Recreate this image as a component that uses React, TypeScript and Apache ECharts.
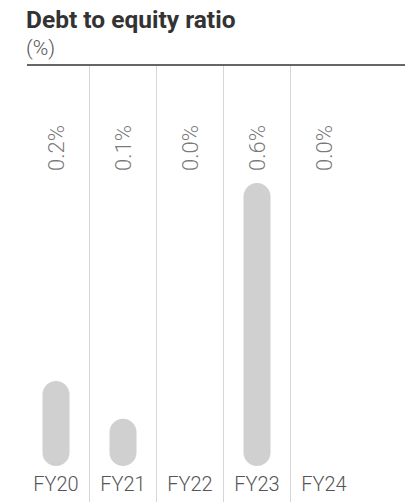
import React, { useEffect, useRef } from "react";
import * as echarts from "echarts";

const categories = ["FY20", "FY21", "FY22", "FY23", "FY24"];
const ratioValues = [0.18, 0.1, 0.0, 0.6, 0.0];
const valueLabels = ["0.2%", "0.1%", "0.0%", "0.6%", "0.0%"];
const titleText = "Debt to equity ratio";
const unitText = "(%)";

const FONT = "Roboto, 'Liberation Sans', Arial, sans-serif";
const LABEL_LEVEL = 0.81;

export default function App() {
  const ref = useRef<HTMLDivElement>(null);
  useEffect(() => {
    if (!ref.current) return;
    const chart = echarts.init(ref.current, undefined, { renderer: "svg" });
    chart.setOption({
      animation: false,
      backgroundColor: "#ffffff",
      textStyle: { fontFamily: FONT },
      title: {
        text: titleText,
        subtext: unitText,
        left: 21,
        top: 1.5,
        itemGap: 6,
        textStyle: { fontFamily: FONT, fontSize: 24.5, fontWeight: "bold", color: "#333333" },
        subtextStyle: { fontFamily: FONT, fontSize: 21, fontWeight: 300, color: "#555555" },
      },
      graphic: [
        {
          type: "line",
          shape: { x1: 27, y1: 65, x2: 405, y2: 65 },
          style: { stroke: "#333333", lineWidth: 1.3 },
          z: 10,
        },
      ],
      grid: [
        { left: 22.5, width: 335, top: 183, bottom: 36 },
        { left: 22.5, width: 335, top: 65, bottom: 0 },
      ],
      xAxis: [
        {
          type: "category",
          gridIndex: 0,
          data: categories,
          axisLine: { show: false },
          axisTick: { show: false },
          axisLabel: {
            show: true,
            margin: 8,
            fontFamily: FONT,
            fontSize: 20,
            fontWeight: 300,
            color: "#555555",
          },
          splitLine: { show: false },
        },
        {
          type: "category",
          gridIndex: 1,
          data: categories,
          axisLine: { show: false },
          axisTick: { show: false },
          axisLabel: { show: false },
          splitLine: {
            show: true,
            showMinLine: false,
            showMaxLine: false,
            lineStyle: { color: "#d6d6d6", width: 1 },
          },
        },
      ],
      yAxis: [
        { type: "value", gridIndex: 0, min: 0, max: 0.6, show: false },
        { type: "value", gridIndex: 1, min: 0, max: 1, show: false },
      ],
      series: [
        {
          type: "bar",
          xAxisIndex: 0,
          yAxisIndex: 0,
          data: ratioValues,
          barWidth: 27,
          itemStyle: { color: "#d0d0d0", borderRadius: 13.5 },
          label: { show: false },
        },
        {
          type: "scatter",
          xAxisIndex: 1,
          yAxisIndex: 1,
          data: valueLabels.map((t, i) => ({ value: [i, LABEL_LEVEL], name: t })),
          symbolSize: 1,
          itemStyle: { color: "rgba(0,0,0,0)" },
          label: {
            show: true,
            position: "inside",
            rotate: 90,
            formatter: (p: any) => valueLabels[p.dataIndex],
            fontFamily: FONT,
            fontSize: 22,
            fontWeight: 300,
            color: "#555555",
          },
          silent: true,
        },
      ],
    });
    return () => chart.dispose();
  }, []);
  return (
    <div
      ref={ref}
      style={{ position: "fixed", left: 0, top: 0, width: 418, height: 502 }}
    />
  );
}
